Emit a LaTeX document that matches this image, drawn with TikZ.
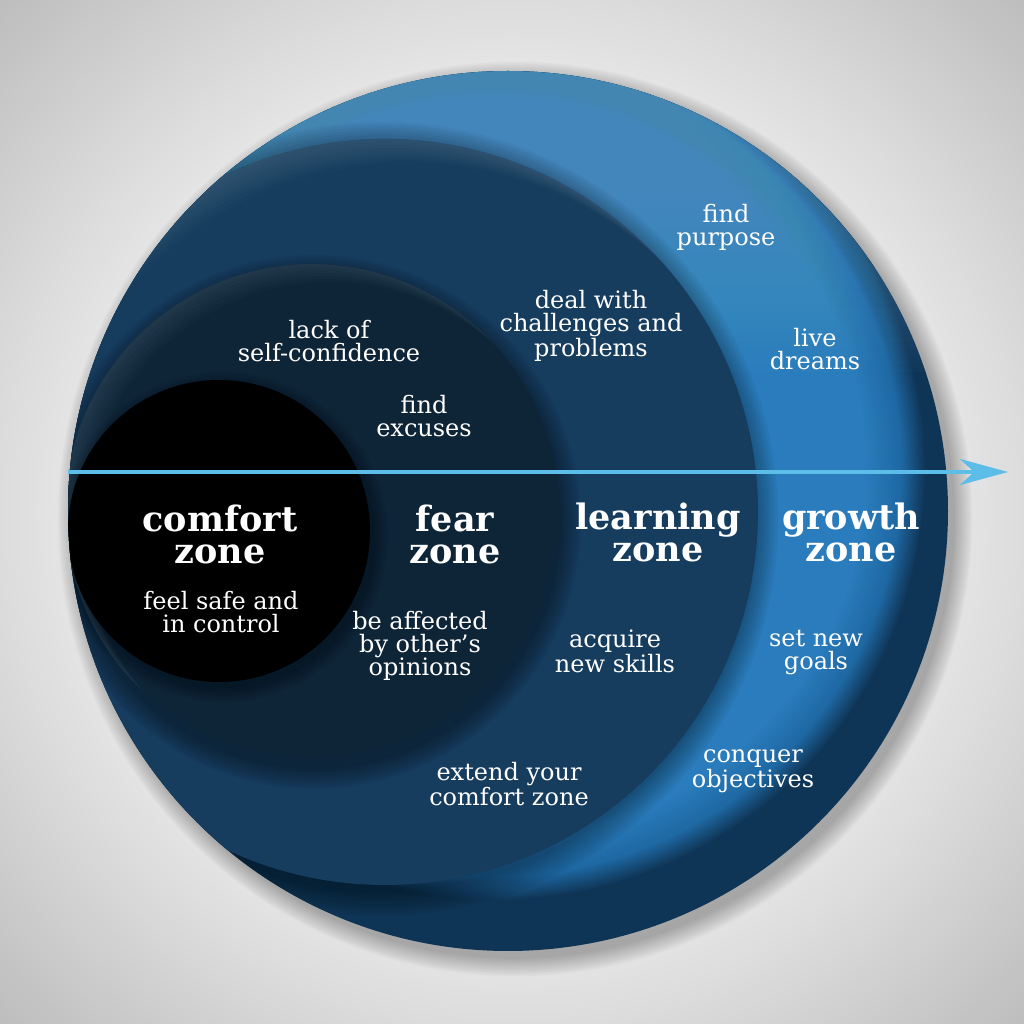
\documentclass[tikz,border=0pt]{standalone}
\usepackage{fontspec}
\setmainfont{DejaVu Serif}
\usetikzlibrary{arrows.meta}
\definecolor{navy}{HTML}{0F3556}
\definecolor{gB}{HTML}{2A7CBC}
\definecolor{gC}{HTML}{1E68A3}
\definecolor{gTop}{HTML}{6DB0DC}
\definecolor{learnC}{HTML}{163C5E}
\definecolor{fearC}{HTML}{0E2538}
\definecolor{hl}{HTML}{7F9AB2}
\definecolor{arrowC}{HTML}{5BBDE8}
\definecolor{bgA}{HTML}{F7F7F7}
\definecolor{bgB}{HTML}{EFEFEF}
\definecolor{bgC}{HTML}{DCDCDC}
\definecolor{bgD}{HTML}{BDBDBD}
\pgfdeclareradialshading{bgshade}{\pgfpoint{0bp}{0bp}}{color(0bp)=(bgA); color(18bp)=(bgB); color(25bp)=(bgC); color(35.4bp)=(bgD); color(50bp)=(bgD)}
\pgfdeclareradialshading{growthshade}{\pgfpoint{0bp}{0bp}}{color(0bp)=(gB); color(21.5bp)=(gB); color(23.6bp)=(gC); color(25bp)=(navy); color(50bp)=(navy)}
\tikzset{
  lbl/.style={text=white, align=center, inner sep=0pt, font=\fontsize{12}{11.5}\selectfont},
  ttl/.style={text=white, align=center, inner sep=0pt, font=\bfseries\fontsize{17.5}{16}\selectfont},
  softshadow/.style={black, opacity=0.04},
}
\begin{document}
\begin{tikzpicture}[x=0.5pt,y=0.5pt]
\useasboundingbox (0,0) rectangle (1024,1024);
\shade[shading=bgshade] (0,0) rectangle (1024,1024);
% drop shadow of the disc
\foreach \k in {1,...,12} \fill[black, opacity=0.025] (515,505) circle ({438+\k*1.6});
\fill[navy] (508,513) circle (440);
\begin{scope}
  \clip (508,513) circle (440);
  % growth zone
  \shade[shading=growthshade] (495,554) circle (430);
  \foreach \i in {1,...,40} \fill[gTop, opacity=0.023] (40,{952-7.5*\i}) rectangle (980,1000);
  % learning zone
  \foreach \k in {1,...,10} \fill[softshadow] (381,505) circle ({371+\k*2.6});
  \fill[learnC] (385,512) circle (373);
  \begin{scope}
    \clip (385,512) circle (373);
    \foreach \s in {3,6,...,24} \fill[hl, opacity=0.035, even odd rule] (385,512) circle (373) ({385+\s},{512-\s}) circle (373);
  \end{scope}
  % fear zone
  \foreach \k in {1,...,10} \fill[softshadow] (314,502) circle ({245+\k*2.2});
  \fill[fearC] (312,513) circle (247);
  \begin{scope}
    \clip (312,513) circle (247);
    \foreach \s in {3,6,...,18} \fill[hl, opacity=0.03, even odd rule] (312,513) circle (247) ({312+\s},{513-\s}) circle (247);
  \end{scope}
  % comfort zone
  \foreach \k in {1,...,8} \fill[softshadow] (223,487) circle ({149+\k*2});
  \fill[black] (219,493) circle (151);
\end{scope}
% arrow
\coordinate (astart) at (68,552);
\coordinate (aend) at (1008,552);
\draw[arrowC, line width=2.2pt, -{Stealth[length=24pt,width=13pt,inset=7pt]}] (astart) -- (aend);
% titles
\node[ttl] (tcomfort) at (220,490) {comfort\\zone};
\node[ttl] (tfear) at (455,490) {fear\\zone};
\node[ttl] (tlearn) at (658,492) {learning\\zone};
\node[ttl] (tgrowth) at (851,492) {growth\\zone};
% labels
\node[lbl] (purpose) at (726,797) {find\\purpose};
\node[lbl] (deal) at (591,698) {deal with\\challenges and\\problems};
\node[lbl] (dreams) at (815,675) {live\\dreams};
\node[lbl] (lack) at (329,683) {lack of\\self-confidence};
\node[lbl] (excuses) at (424,608) {find\\excuses};
\node[lbl] (safe) at (221,412) {feel safe and\\in control};
\node[lbl] (affected) at (420,378) {be affected\\by other’s\\opinions};
\node[lbl] (skills) at (615,373) {acquire\\new skills};
\node[lbl] (goals) at (816,371) {set new\\goals};
\node[lbl] (extend) at (509,240) {extend your\\comfort zone};
\node[lbl] (conquer) at (753,253) {conquer\\objectives};
\end{tikzpicture}
\end{document}
